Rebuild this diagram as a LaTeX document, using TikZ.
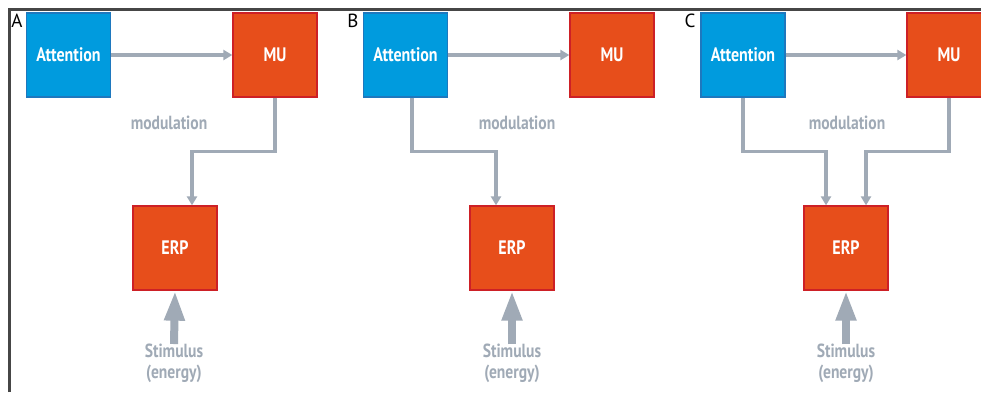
\documentclass[tikz,border=0pt]{standalone}
\usepackage{fontspec}
\setmainfont{PT Sans}
\newfontfamily\condfont{PT Sans}[FakeStretch=0.82]
\usetikzlibrary{arrows.meta,calc}
\definecolor{attblue}{RGB}{0,155,222}
\definecolor{attedge}{RGB}{30,120,190}
\definecolor{muorange}{RGB}{231,78,27}
\definecolor{muedge}{RGB}{205,32,38}
\definecolor{linkgray}{RGB}{160,170,182}
\definecolor{framegray}{RGB}{70,70,70}
\tikzset{
  box/.style={minimum width=84pt,minimum height=84pt,inner sep=0pt,line width=1.3pt,
    font=\condfont\bfseries\fontsize{19.5}{22}\selectfont,text=white},
  attbox/.style={box,fill=attblue,draw=attedge},
  mubox/.style={box,fill=muorange,draw=muedge},
  link/.style={draw=linkgray,line width=3.6pt,
    -{Triangle[length=9pt,width=10pt]},color=linkgray},
  stim/.style={draw=linkgray,line width=8pt,
    -{Triangle[length=30pt,width=19pt]},color=linkgray},
  graytext/.style={text=linkgray,font=\condfont\bfseries\fontsize{19}{21}\selectfont,
    inner sep=0pt,align=center},
  panel/.style={font=\fontsize{19}{20}\selectfont,inner sep=0pt}
}
\begin{document}
\begin{tikzpicture}[x=1pt,y=-1pt]
\useasboundingbox (0,0) rectangle (981,392);
\clip (0,0) rectangle (981,392);
\fill[white] (0,0) rectangle (981,392);
% outer frame (top and left edges)
\draw[framegray,line width=2.2pt] (9.5,392) -- (9.5,9.5) -- (981,9.5);

% ---------- panel A ----------
\node[panel] (la) at (17,21) {A};
\node[attbox] (a1) at (68.5,55) {Attention};
\node[mubox]  (m1) at (275,55) {MU};
\node[mubox]  (e1) at (175,248) {ERP};
\node[graytext] (t1) at (169,123) {modulation};
\node[graytext,anchor=north] (s1) at (174,344) {Stimulus\\(energy)};
\draw[link] (a1.east) -- (m1.west);
\draw[link] (m1.south) -- ++(0,54) -| ([xshift=17pt]e1.north);
\draw[stim] (s1.north) -- (e1.south);

% ---------- panel B ----------
\node[panel] (lb) at (353,21) {B};
\node[attbox] (a2) at (405.5,55) {Attention};
\node[mubox]  (m2) at (612,55) {MU};
\node[mubox]  (e2) at (512,248) {ERP};
\node[graytext] (t2) at (517,123) {modulation};
\node[graytext,anchor=north] (s2) at (512,344) {Stimulus\\(energy)};
\draw[link] (a2.east) -- (m2.west);
\draw[link] ([xshift=6.5pt]a2.south) -- ++(0,54) -| ([xshift=-16pt]e2.north);
\draw[stim] (s2.north) -- (e2.south);

% ---------- panel C ----------
\node[panel] (lc) at (690,21) {C};
\node[attbox] (a3) at (743,55) {Attention};
\node[mubox]  (m3) at (949,55) {MU};
\node[mubox]  (e3) at (846,248) {ERP};
\node[graytext] (t3) at (847,123) {modulation};
\node[graytext,anchor=north] (s3) at (846,344) {Stimulus\\(energy)};
\draw[link] (a3.east) -- (m3.west);
\draw[link] (a3.south) -- ++(0,54) -| ([xshift=-20pt]e3.north);
\draw[link] (m3.south) -- ++(0,54) -| ([xshift=20pt]e3.north);
\draw[stim] (s3.north) -- (e3.south);
\end{tikzpicture}
\end{document}
